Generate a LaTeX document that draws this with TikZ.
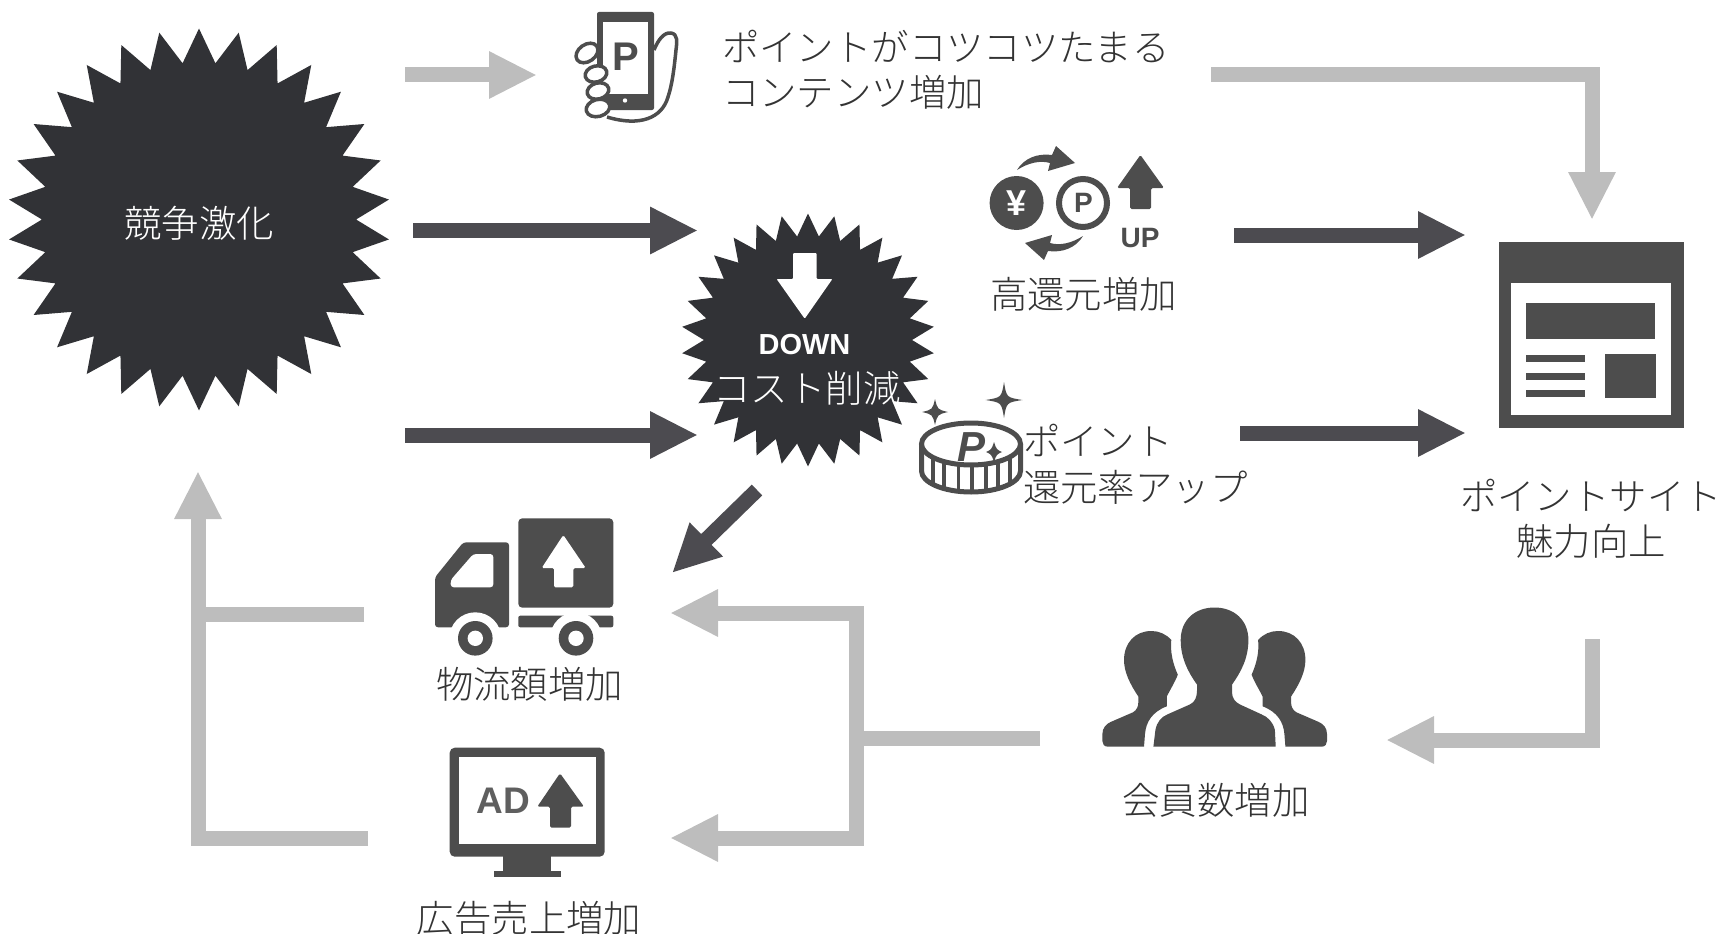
\documentclass[tikz,border=0pt]{standalone}
\usepackage{fontspec}
\usetikzlibrary{arrows.meta,shapes.geometric}
\newfontfamily\jpfont[UprightFont=* Light,BoldFont=*]{Noto Sans CJK JP}
\newfontfamily\helfont[BoldFont=* Bold]{Liberation Sans}
\definecolor{lightc}{HTML}{BDBDBD}
\definecolor{darkc}{HTML}{4C4B50}
\definecolor{starc}{HTML}{313236}
\definecolor{iconc}{HTML}{4D4D4D}
\definecolor{textc}{HTML}{333333}
\tikzset{
  lab/.style={font=\jpfont\fontsize{37.4}{45}\selectfont,text=textc,inner sep=0pt,outer sep=0pt,align=center},
  whitelab/.style={lab,text=white},
  burst/.style={star,star points=30,fill=starc,draw=none,inner sep=0pt,outer sep=0pt,star point ratio=1.216},
  conn/.style={line width=15pt,line join=miter,line cap=butt},
  lightconn/.style={conn,draw=lightc},
  darkconn/.style={conn,draw=darkc},
  tipped/.style={-{Triangle[length=48pt,width=44pt]}},
  icon/.style={fill=iconc,draw=none},
  hole/.style={fill=white,draw=none},
  outl/.style={draw=iconc,line width=3.5pt,fill=white,line join=round},
}
\newcommand{\sparkle}[4]{\fill[iconc] (#1,#2-#4) .. controls (#1+2.5,#2-2.5) .. (#1+#3,#2) .. controls (#1+2.5,#2+2.5) .. (#1,#2+#4) .. controls (#1-2.5,#2+2.5) .. (#1-#3,#2) .. controls (#1-2.5,#2-2.5) .. cycle;}
\newcommand{\sideperson}{(1144,746.7) -- (1108,746.7) .. controls (1104,746.7) and (1102.4,744) .. (1102.4,741) -- (1102.4,734) .. controls (1102.4,728) and (1106,724) .. (1110.6,722) -- (1133,712.3) .. controls (1137,710) and (1138.3,706) .. (1138.3,702.4) -- (1138.3,696.5) .. controls (1130,684) and (1124,672) .. (1124,660) .. controls (1124,643) and (1135,631) .. (1151.3,631) .. controls (1159,631) and (1166,634) .. (1171.3,640) .. controls (1170,652) and (1173,664) .. (1177.8,674.7) .. controls (1175,682) and (1170,690) .. (1166.8,696.5) -- (1166.8,706.3) .. controls (1152,712) and (1146,722) .. (1145,734) -- cycle}
\begin{document}
\begin{tikzpicture}[x=1pt,y=-1pt]
\useasboundingbox (0,0) rectangle (1719,934);
% bursts
\node[burst,minimum size=382pt] (comp) at (199,219.5) {};
\node[burst,minimum size=253pt] (cost) at (808,340) {};
\node[whitelab] (compt) at (199,223.5) {競争激化};
\node[whitelab] (costt) at (807,388) {コスト削減};
\node[inner sep=0pt,text=white,font=\helfont\bfseries\fontsize{29}{30}\selectfont] (down) at (804.5,345) {DOWN};
\fill[white,rounded corners=1pt] (793,253) -- (816.6,253) -- (816.6,279) -- (832.4,279) -- (804.7,318.7) -- (776.6,279) -- (793,279) -- cycle;
% labels
\node[lab,align=left,anchor=west] (tama) at (722,70) {ポイントがコツコツたまる\\コンテンツ増加};
\node[lab] (taka) at (1083.5,294) {高還元増加};
\node[lab,align=left,anchor=west] (rate) at (1023,464) {ポイント\\[1pt]還元率アップ};
\node[lab] (site) at (1591,518.5) {ポイントサイト\\魅力向上};
\node[lab] (mem) at (1216,800) {会員数増加};
\node[lab] (log) at (529.5,684) {物流額増加};
\node[lab] (ad) at (529,918) {広告売上増加};
% connector end points
\coordinate (a1s) at (405,75); \coordinate (a1e) at (537,75);
\coordinate (a2s) at (1211,75); \coordinate (a2c) at (1592,75); \coordinate (a2e) at (1592,220);
\coordinate (a3s) at (413,230.5); \coordinate (a3e) at (698,230.5);
\coordinate (a4s) at (405,435); \coordinate (a4e) at (698,435);
\coordinate (a5s) at (1234,235); \coordinate (a5e) at (1466,235);
\coordinate (a6s) at (1240,433); \coordinate (a6e) at (1466,433);
\coordinate (a7s) at (757,490); \coordinate (a7e) at (672,573);
\coordinate (a8s) at (1592,639); \coordinate (a8c) at (1592,740); \coordinate (a8e) at (1386,740);
\coordinate (a9s) at (1040,738); \coordinate (a9j) at (856,738);
\coordinate (a9u) at (670,613); \coordinate (a9d) at (670,838);
\coordinate (a10a) at (364,614); \coordinate (a10j) at (198,614);
\coordinate (a10b) at (368,838); \coordinate (a10c) at (198,838); \coordinate (a10e) at (198,471);
% connectors
\draw[lightconn,tipped] (a1s) -- (a1e);
\draw[lightconn,tipped] (a2s) -- (a2c) -- (a2e);
\draw[darkconn,tipped] (a3s) -- (a3e);
\draw[darkconn,tipped] (a4s) -- (a4e);
\draw[darkconn,tipped] (a5s) -- (a5e);
\draw[darkconn,tipped] (a6s) -- (a6e);
\draw[darkconn,tipped] (a7s) -- (a7e);
\draw[lightconn,tipped] (a8s) -- (a8c) -- (a8e);
\draw[lightconn] (a9s) -- (a9j);
\draw[lightconn,tipped] (a9j) |- (a9u);
\draw[lightconn,tipped] (a9j) |- (a9d);
\draw[lightconn] (a10a) -- (a10j);
\draw[lightconn,tipped] (a10b) -- (a10c) -- (a10e);
% phone icon
\draw[outl] (654,50) .. controls (658,40) and (664,32) .. (671,33) .. controls (678,34) and (677,42) .. (676,50) .. controls (674,70) and (672,85) .. (668,97) .. controls (662,118) and (640,127) .. (607,117);
\fill[icon,rounded corners=2pt] (597,12) rectangle (654,110);
\fill[hole] (602.5,22) rectangle (648,94);
\fill[hole] (625,100.5) circle [radius=2.2pt];
\node[inner sep=0pt,text=iconc,font=\helfont\bfseries\fontsize{40}{40}\selectfont] (pph) at (625.5,57) {P};
\draw[outl,rotate around={35:(587,53)}] (587,53) ellipse [x radius=12pt,y radius=8.5pt];
\draw[outl,rotate around={15:(596,74)}] (596,74) ellipse [x radius=11pt,y radius=8pt];
\draw[outl,rotate around={15:(598,91)}] (598,91) ellipse [x radius=11pt,y radius=8pt];
\draw[outl,rotate around={15:(598,108)}] (598,108) ellipse [x radius=12pt,y radius=8.5pt];
% yen/point icon
\fill[icon] (1016.6,203) circle [radius=27pt];
\node[inner sep=0pt,text=white,font=\helfont\bfseries\fontsize{36}{36}\selectfont] (yen) at (1016.6,203) {¥};
\draw[iconc,line width=6pt,fill=white] (1083,203) circle [radius=24pt];
\node[inner sep=0pt,text=iconc,font=\helfont\bfseries\fontsize{28}{28}\selectfont] (pp2) at (1083.5,203) {P};
\fill[icon] (1017,170) .. controls (1024,158) and (1038,153) .. (1052,155) -- (1056,146) -- (1075,163) -- (1048,171) -- (1050,163) .. controls (1040,160) and (1028,163) .. (1017,170) -- cycle;
\fill[icon] (1083,236) .. controls (1076,248) and (1062,253) .. (1048,251) -- (1044,260) -- (1025,243) -- (1052,235) -- (1050,243) .. controls (1060,246) and (1072,243) .. (1083,236) -- cycle;
\fill[icon,rounded corners=1.5pt] (1140.4,155) -- (1164,188) -- (1151,188) -- (1151,209) -- (1130,209) -- (1130,188) -- (1117,188) -- cycle;
\node[inner sep=0pt,text=iconc,font=\helfont\bfseries\fontsize{28}{28}\selectfont] (up) at (1140,238) {UP};
% coin
\foreach \xx/\yt/\yb in {933/457.4/484.4,944/461.6/488.6,958.5/464.3/491.3,972/465/492,986/464/491,998/461.6/488.6,1010/457/484}
  \draw[iconc,line width=3.5pt] (\xx,\yt) -- (\xx,\yb);
\draw[iconc,line width=5pt] (921.5,444) -- (921.5,471) arc [start angle=180,end angle=360,x radius=49.5pt,y radius=21pt] -- (1020.5,444);
\draw[iconc,line width=5pt,fill=white] (971,444) ellipse [x radius=49.5pt,y radius=21pt];
\node[inner sep=0pt,text=iconc,font=\helfont\bfseries\itshape\fontsize{42}{42}\selectfont] (pc) at (971,447) {P};
\sparkle{994}{452}{8}{10}
\sparkle{1004}{400}{18.5}{18}
\sparkle{935}{412}{13}{13}
% site icon
\fill[icon] (1498.7,242) rectangle (1683.7,427.6);
\fill[hole] (1511.3,282.5) rectangle (1670.7,414.5);
\fill[icon] (1526,303) rectangle (1655,338.6);
\fill[icon] (1526,355) rectangle (1585,361.6);
\fill[icon] (1526,373) rectangle (1585,380);
\fill[icon] (1526,390) rectangle (1585,397);
\fill[icon] (1605,354) rectangle (1656,398);
% people
\fill[icon] \sideperson;
\begin{scope}[shift={(2429.4,0)},xscale=-1]
\fill[icon] \sideperson;
\end{scope}
\fill[icon] (1153.4,746.7) -- (1155.4,730) .. controls (1157,722) and (1161,717) .. (1167.6,714.3) -- (1190,704.4) .. controls (1195,702) and (1197,697) .. (1197,690.5) -- (1197,684.6) .. controls (1188,672) and (1180.7,658) .. (1180.7,640) .. controls (1180.7,620) and (1195,607.5) .. (1214.5,607.5) .. controls (1234,607.5) and (1248.4,620) .. (1248.4,640) .. controls (1248.4,658) and (1241,672) .. (1232,684.6) -- (1232,692) .. controls (1232,698) and (1235,702) .. (1239.8,704.4) -- (1261.4,714.3) .. controls (1268,717) and (1273,722) .. (1274.9,730) -- (1275.7,746.7) -- cycle;
% truck
\fill[icon,rounded corners=4pt] (518.3,518.3) rectangle (613.3,607.7);
\fill[white,rounded corners=1.5pt] (563.3,535) -- (585.7,568) -- (573.3,568) -- (573.3,587.3) -- (554,587.3) -- (554,568) -- (541.7,568) -- cycle;
\fill[icon,rounded corners=3pt] (435,577.3) -- (463.3,542.3) -- (509,542.3) -- (509,627.3) -- (435,627.3) -- cycle;
\fill[hole,rounded corners=3pt] (450.7,580) -- (473.3,554) -- (493.3,554) -- (493.3,587.3) -- (450.7,587.3) -- cycle;
\fill[icon,rounded corners=2pt] (518.3,615.7) rectangle (613.3,627.3);
\fill[hole] (475.3,638.3) circle [radius=26pt];
\fill[hole] (576,638.3) circle [radius=26pt];
\fill[icon] (475.3,638.3) circle [radius=17.3pt];
\fill[hole] (475.3,638.3) circle [radius=7.7pt];
\fill[icon] (576,638.3) circle [radius=17.3pt];
\fill[hole] (576,638.3) circle [radius=7.7pt];
% monitor
\fill[icon,rounded corners=5pt] (449.7,747.7) rectangle (604.7,856.7);
\fill[hole] (459,757) rectangle (595.7,844.3);
\fill[icon] (503,856) rectangle (551,870.7);
\fill[icon] (493.7,870.7) rectangle (561,877.3);
\node[inner sep=0pt,text=iconc!90!white,font=\helfont\bfseries\fontsize{37}{37}\selectfont] (adt) at (503.5,801) {AD};
\fill[icon,rounded corners=1.5pt] (560,773.3) -- (584,806.7) -- (571,806.7) -- (571,827.7) -- (550,827.7) -- (550,806.7) -- (537.3,806.7) -- cycle;
\end{tikzpicture}
\end{document}
